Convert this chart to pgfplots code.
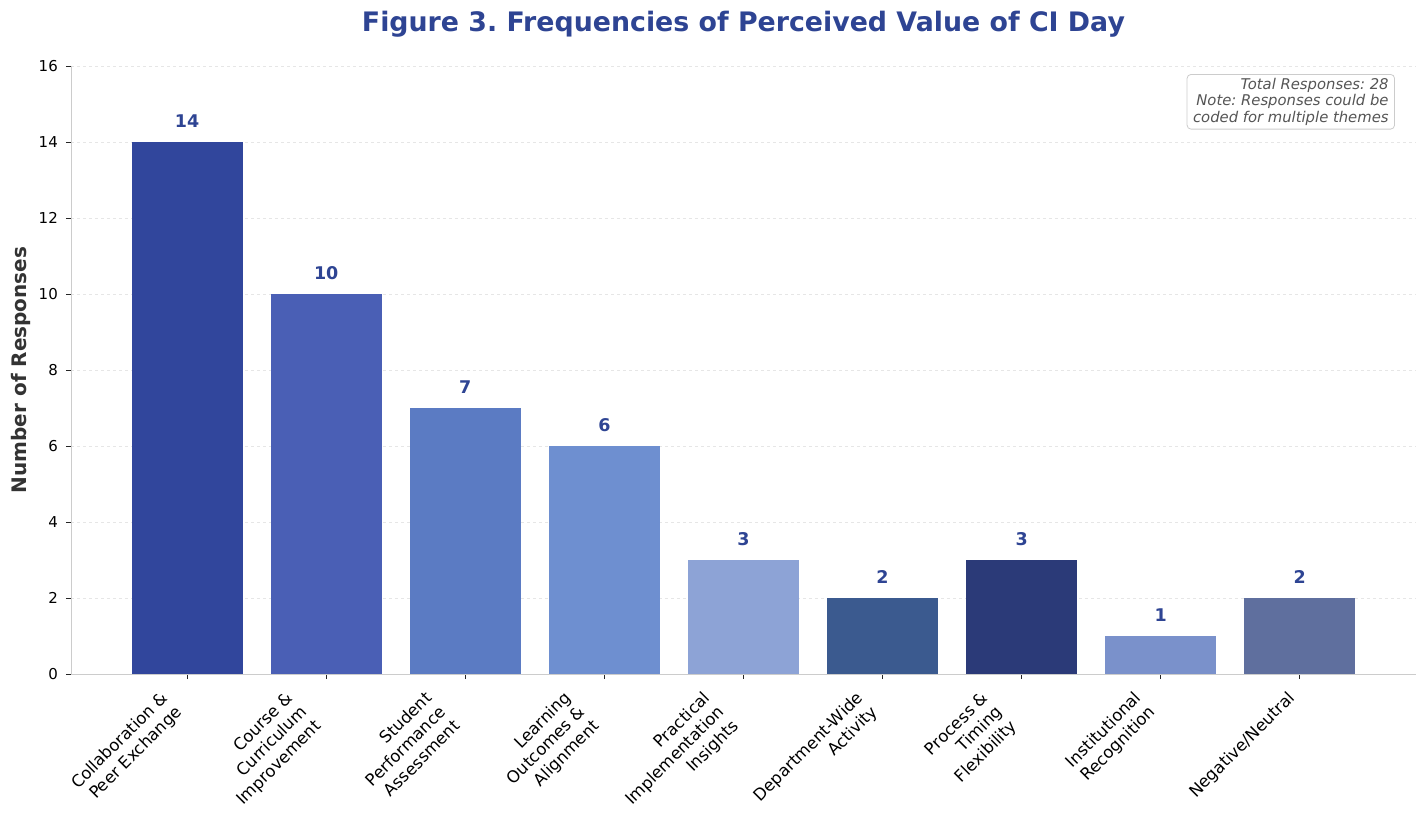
\documentclass[border=0pt]{standalone}
\usepackage{fontspec}
\setmainfont{DejaVu Sans}
\usepackage{pgfplots}
\pgfplotsset{compat=1.18}
\frenchspacing
\definecolor{c1}{HTML}{31469C}
\definecolor{c2}{HTML}{4A5FB5}
\definecolor{c3}{HTML}{5B7BC3}
\definecolor{c4}{HTML}{6E8FD0}
\definecolor{c5}{HTML}{8DA3D6}
\definecolor{c6}{HTML}{3B5A8F}
\definecolor{c7}{HTML}{2B3A78}
\definecolor{c8}{HTML}{7A91CB}
\definecolor{c9}{HTML}{5F6F9E}
\definecolor{titlec}{HTML}{2E4493}
\definecolor{axisc}{HTML}{CCCCCC}
\definecolor{gridc}{HTML}{E6E6E6}
\definecolor{labc}{HTML}{333333}
\definecolor{notec}{HTML}{555555}
\newcommand\lab[2]{\begin{tabular}{@{}r@{\hspace*{#1pt}}}#2\end{tabular}}
\begin{document}
\begin{tikzpicture}
\path[use as bounding box] (0,0) rectangle (1428pt,831pt);
\begin{axis}[
  at={(71pt,157pt)}, anchor=south west,
  scale only axis, width=1345pt, height=608pt,
  ybar, bar width=0.8,
  xmin=-0.835, xmax=8.835, ymin=0, ymax=16,
  ytick={0,2,...,16},
  xtick={0,...,8},
  xticklabels={{\lab{20}{Collaboration \&\\Peer Exchange}},{\lab{30}{Course \&\\Curriculum\\Improvement}},{\lab{30}{Student\\Performance\\Assessment}},{\lab{30}{Learning\\Outcomes \&\\Alignment}},{\lab{30}{Practical\\Implementation\\Insights}},{\lab{20}{Department-Wide\\Activity}},{\lab{30}{Process \&\\Timing\\Flexibility}},{\lab{20}{Institutional\\Recognition}},{\lab{10}{Negative/Neutral}}},
  axis x line*=bottom, axis y line*=left,
  axis line style={draw=axisc, line width=1pt},
  tick style={draw=black!85, line width=0.8pt},
  major tick length=5pt, tick align=outside,
  ymajorgrids, grid style={dashed, draw=gridc, line width=0.6pt},
  /pgf/number format/assume math mode=true,
  yticklabel style={font=\fontsize{15}{18}\selectfont, anchor=east, inner sep=0pt, xshift=-8pt},
  xticklabel style={yshift=-10pt, rotate=45, anchor=east, inner sep=0pt, font=\fontsize{16.5}{20}\selectfont},
  ylabel={Number of Responses},
  ylabel style={at={(axis description cs:-0.0372,0.5)}, anchor=center, font=\bfseries\fontsize{20}{24}\selectfont, text=labc},
  title={Figure 3. Frequencies of Perceived Value of CI Day},
  title style={at={(axis description cs:0.5,1)}, anchor=base, yshift=28pt, font=\bfseries\fontsize{26.8}{32}\selectfont, text=titlec},
  nodes near coords,
  every node near coord/.append style={font=\bfseries\fontsize{17.5}{20}\selectfont, text=titlec, anchor=south, inner sep=0pt, yshift=14.5pt},
]
\addplot[fill=c1, draw=none, bar shift=0pt] coordinates {(0,14)};
\addplot[fill=c2, draw=none, bar shift=0pt] coordinates {(1,10)};
\addplot[fill=c3, draw=none, bar shift=0pt] coordinates {(2,7)};
\addplot[fill=c4, draw=none, bar shift=0pt] coordinates {(3,6)};
\addplot[fill=c5, draw=none, bar shift=0pt] coordinates {(4,3)};
\addplot[fill=c6, draw=none, bar shift=0pt] coordinates {(5,2)};
\addplot[fill=c7, draw=none, bar shift=0pt] coordinates {(6,3)};
\addplot[fill=c8, draw=none, bar shift=0pt] coordinates {(7,1)};
\addplot[fill=c9, draw=none, bar shift=0pt] coordinates {(8,2)};
\node[anchor=north east, draw=axisc, line width=0.8pt, rounded corners=4pt, fill=white, align=right, inner xsep=6pt, inner ysep=4pt, font=\itshape\fontsize{14.8}{16.2}\selectfont, text=notec] at (axis description cs:0.9844,0.9868) {Total Responses: 28\\Note: Responses could be\\coded for multiple themes};
\end{axis}
\end{tikzpicture}
\end{document}
